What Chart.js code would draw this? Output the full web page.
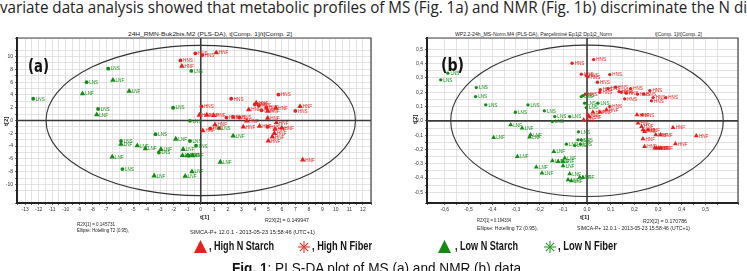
<!DOCTYPE html>
<html><head><meta charset="utf-8">
<script src="https://cdn.jsdelivr.net/npm/chart.js@4.4.0/dist/chart.umd.min.js"></script>
<style>
html,body{margin:0;padding:0;background:#fff;width:747px;height:271px;overflow:hidden;}
body{position:relative;font-family:"Liberation Sans",Arial,sans-serif;}
.t{position:absolute;white-space:nowrap;transform-origin:0 0;color:#222;line-height:1;}
.cv{position:absolute;}
svg{position:absolute;overflow:visible;}
</style></head><body>
<div class="t" id="para" data-w="747" style="left:0;top:-1px;font-size:16px;font-family:'Open Sans';color:#222;">variate data analysis showed that metabolic profiles of MS (Fig. 1a) and NMR (Fig. 1b) discriminate the N di</div>

<div class="t" data-w="164" style="left:128px;top:31px;font-size:6px;">24H_RMN-Buk2bis.M2 (PLS-DA), t[Comp. 1]/t[Comp. 2]</div>
<div class="t" data-w="157" style="left:455px;top:31px;font-size:6px;">WP2.2-24h_MS-Norm.M4 (PLS-DA), Parçeliminé Ep1j2 Dp1j2_Norm</div>
<div class="t" data-w="47" style="left:655px;top:31px;font-size:6px;">t[Comp. 1]/t[Comp. 2]</div>

<canvas class="cv" id="ca" width="380" height="190" style="left:0;top:30px;"></canvas>
<canvas class="cv" id="cb" width="352" height="190" style="left:395px;top:30px;"></canvas>

<div class="t" data-w="21" style="left:28px;top:58px;font-size:17px;font-weight:bold;font-family:'DejaVu Sans';color:#111;">(a)</div>
<div class="t" data-w="23" style="left:441px;top:57px;font-size:17px;font-weight:bold;font-family:'DejaVu Sans';color:#111;">(b)</div>

<div class="t" style="left:200px;top:214px;font-size:6px;font-weight:bold;">t[1]</div>
<div class="t" style="left:580px;top:214px;font-size:6px;font-weight:bold;">t[1]</div>
<div class="t" style="left:3px;top:126px;font-size:6px;font-weight:bold;transform:rotate(-90deg);">t[2]</div>
<div class="t" style="left:412px;top:124px;font-size:6px;font-weight:bold;transform:rotate(-90deg);">t[2]</div>

<div class="t" data-w="38" style="left:77px;top:222px;font-size:5.5px;">R2X[1] = 0.145731</div>
<div class="t" data-w="52" style="left:77px;top:228px;font-size:5.5px;">Ellipse: Hotelling T2 (0.95),</div>
<div class="t" data-w="44" style="left:265px;top:218px;font-size:5.5px;">R2X[2] = 0.149947</div>
<div class="t" data-w="125" style="left:190px;top:230px;font-size:5.5px;">SIMCA-P+ 12.0.1 - 2013-05-23 15:58:46 (UTC+1)</div>

<div class="t" data-w="34" style="left:477px;top:218px;font-size:5.5px;">R2X[1] = 0.194334</div>
<div class="t" data-w="61" style="left:477px;top:226px;font-size:5.5px;">Ellipse: Hotelling T2 (0.95),</div>
<div class="t" data-w="44" style="left:643px;top:219px;font-size:5.5px;">R2X[2] = 0.170786</div>
<div class="t" data-w="113" style="left:577px;top:226px;font-size:5.5px;">SIMCA-P+ 12.0.1 - 2013-05-23 15:58:46 (UTC+1)</div>

<svg style="left:194px;top:240px" width="14" height="14"><polygon points="6.5,0 13,13 0,13" fill="#ee1c1c"/></svg>
<div class="t" data-w="65" style="left:209px;top:240px;font-size:12px;font-weight:bold;color:#111;">, High N Starch</div>
<svg style="left:298px;top:241px" width="12" height="12"><g stroke="#f03030" stroke-width="1.1"><line x1="6" y1="0" x2="6" y2="12"/><line x1="0" y1="6" x2="12" y2="6"/><line x1="1.8" y1="1.8" x2="10.2" y2="10.2"/><line x1="10.2" y1="1.8" x2="1.8" y2="10.2"/></g></svg>
<div class="t" data-w="60" style="left:312px;top:240px;font-size:12px;font-weight:bold;color:#111;">, High N Fiber</div>
<svg style="left:438px;top:240px" width="14" height="14"><polygon points="6.5,0 13,13 0,13" fill="#128a12"/></svg>
<div class="t" data-w="63" style="left:455px;top:240px;font-size:12px;font-weight:bold;color:#111;">, Low N Starch</div>
<svg style="left:544px;top:241px" width="12" height="12"><g stroke="#2a9a2a" stroke-width="1.1"><line x1="6" y1="0" x2="6" y2="12"/><line x1="0" y1="6" x2="12" y2="6"/><line x1="1.8" y1="1.8" x2="10.2" y2="10.2"/><line x1="10.2" y1="1.8" x2="1.8" y2="10.2"/></g></svg>
<div class="t" data-w="59" style="left:558px;top:240px;font-size:12px;font-weight:bold;color:#111;">, Low N Fiber</div>

<div class="t" data-w="289" style="left:232px;top:261px;font-size:14px;color:#111;"><b>Fig. 1</b>: PLS-DA plot of MS (a) and NMR (b) data</div>

<script>
// ---------- Panel (a): MS PLS-DA scores t[1] / t[2] ----------
const A_HNS = [[-1.5,9.4],[-0.4,10.5],[0.1,10.2],[5.75,4.05],[2.25,3.4],[4.0,2.5],[4.3,2.35],[4.5,1.6],[4.85,2.0],[7.0,1.5],[0.05,2.2],[1.9,0.45],[2.4,0.55],[2.85,0.45],[4.95,-1.0],[0.7,-1.25]];
const A_HNF = [[-1.4,8.5],[1.15,10.6],[4.1,2.75],[3.55,1.7],[4.95,1.45],[5.55,1.95],[7.35,2.2],[-0.1,0.85],[0.45,0.85],[0.95,0.8],[3.4,-0.05],[4.95,0.35],[5.6,-0.35],[3.15,-1.0],[4.35,-0.9],[5.5,-1.35],[6.0,-1.15],[0.15,-1.6],[1.05,-0.65],[5.45,-2.0],[5.3,-2.55],[5.0,-3.2],[7.55,-6.15]];
const A_LNS = [[-12.4,3.4],[-6.85,8.1],[-8.45,6.0],[-7.6,1.8],[-0.7,7.75],[-2.05,2.0],[-0.8,-0.05],[1.35,-1.2],[-3.35,-2.15],[-0.8,-3.2],[-0.35,-3.95],[-5.9,-3.2],[-3.1,-5.0],[-5.8,-7.6],[-0.9,-5.5]];
const A_LNF = [[-6.5,6.3],[-8.75,4.2],[-5.3,4.6],[-7.7,0.9],[-1.85,-2.9],[2.4,-2.4],[-5.9,-3.7],[-4.7,-3.95],[-4.1,-4.4],[-2.95,-4.5],[-1.3,-4.5],[-6.55,-5.7],[-1.35,-5.45],[-1.0,-5.5],[-0.6,-5.5],[-3.45,-8.65],[-0.65,-8.0],[-1.15,-8.7],[1.45,-6.5]];
const A_X_RANGE = [-13.6, 12.6];
const A_Y_RANGE = [-12.9, 12.9];
const A_ELLIPSE = [11.45, 11.75];   // Hotelling T2 (0.95) semi-axes
// ---------- Panel (b): NMR PLS-DA scores ----------
const B_HNS = [[-0.063,0.403],[0.028,0.429],[-0.024,0.327],[-0.003,0.317],[0.004,0.308],[0.096,0.324],[0.044,0.27],[0.121,0.236],[0.089,0.226],[0.056,0.219],[0.054,0.2],[0.135,0.205],[0.145,0.2],[0.184,0.226],[0.166,0.194],[0.159,0.154],[0.213,0.187],[0.265,0.212],[0.239,0.187],[0.279,0.163],[0.272,0.14],[0.332,0.163],[-0.007,0.187],[0.096,0.1],[0.232,0.042]];
const B_HNF = [[0.082,0.077],[0.025,0.061],[0.054,0.061],[0.004,0.042],[0.011,0.028],[-0.014,0.007],[0.211,0.042],[0.215,-0.016],[0.23,-0.04],[0.236,-0.063],[0.243,-0.075],[0.257,-0.063],[0.29,-0.098],[0.31,-0.098],[0.363,-0.047],[0.461,-0.105],[0.236,-0.126],[0.373,-0.161],[0.243,-0.18],[0.286,-0.191],[0.293,-0.191],[0.303,-0.191],[0.312,-0.19]];
const B_LNS = [[-0.587,0.334],[-0.617,0.287],[-0.467,0.233],[-0.47,0.17],[-0.427,0.112],[-0.302,0.06],[-0.249,0.112],[-0.18,0.07],[-0.136,0.03],[-0.073,0.03],[-0.146,-0.005],[-0.017,0.177],[-0.024,0.17],[-0.01,0.124],[-0.003,0.093],[0.046,0.124],[-0.036,-0.077],[-0.038,-0.133],[-0.024,-0.133],[-0.087,-0.163],[-0.052,-0.173],[-0.028,-0.163]];
const B_LNF = [[-0.322,-0.028],[-0.274,-0.051],[-0.394,-0.117],[-0.238,-0.098],[-0.242,-0.114],[-0.14,-0.215],[-0.294,-0.25],[-0.146,-0.28],[-0.122,-0.285],[-0.101,-0.285],[-0.094,-0.261],[-0.101,-0.315],[-0.214,-0.324],[-0.19,-0.366],[-0.073,-0.371],[-0.08,-0.413],[-0.066,-0.42],[-0.031,-0.396],[-0.017,-0.396]];
const B_X_RANGE = [-0.675, 0.637];
const B_Y_RANGE = [-0.575, 0.58];
const B_ELLIPSE = [0.575, 0.53];

const RED = '#ee1c1c', GREEN = '#138c13';

function fitTexts(){
  document.querySelectorAll('[data-w]').forEach(el=>{
    const w = parseFloat(el.dataset.w);
    const cur = el.getBoundingClientRect().width;
    if (cur > 0) el.style.transform = 'scaleX(' + (w/cur) + ')';
  });
}

const decor = {
  id:'decor',
  beforeDatasetsDraw(chart, args, o){
    const {ctx, chartArea:a, scales:{x,y}} = chart;
    ctx.save();
    ctx.beginPath(); ctx.rect(a.left,a.top,a.right-a.left,a.bottom-a.top); ctx.clip();
    // zero lines
    ctx.strokeStyle = '#3a3a3a'; ctx.lineWidth = 1.6;
    const x0 = x.getPixelForValue(0), y0 = y.getPixelForValue(0);
    ctx.beginPath(); ctx.moveTo(x0,a.top); ctx.lineTo(x0,a.bottom); ctx.stroke();
    ctx.beginPath(); ctx.moveTo(a.left,y0); ctx.lineTo(a.right,y0); ctx.stroke();
    // ellipse
    const rx = Math.abs(x.getPixelForValue(o.ell[0]) - x0);
    const ry = Math.abs(y.getPixelForValue(o.ell[1]) - y0);
    ctx.strokeStyle = '#333'; ctx.lineWidth = 1.1;
    ctx.beginPath(); ctx.ellipse(x0,y0,rx,ry,0,0,Math.PI*2); ctx.stroke();
    ctx.restore();
  },
  afterDatasetsDraw(chart){
    const ctx = chart.ctx;
    ctx.save();
    ctx.font = '4.6px "Liberation Sans", Arial, sans-serif';
    ctx.textBaseline = 'middle';
    chart.data.datasets.forEach((ds,i)=>{
      const meta = chart.getDatasetMeta(i);
      ctx.fillStyle = ds.borderColor;
      meta.data.forEach(el=>{ ctx.fillText(ds.label, el.x + 2.6, el.y + 0.5); });
    });
    ctx.restore();
  },
  afterDraw(chart){
    const {ctx, chartArea:a} = chart;
    ctx.save();
    ctx.strokeStyle = '#444'; ctx.lineWidth = 1.2;
    ctx.beginPath(); ctx.moveTo(a.left,a.top); ctx.lineTo(a.right,a.top); ctx.lineTo(a.right,a.bottom); ctx.stroke();
    ctx.restore();
  }
};

function series(name, pts, tri, color, r){
  return {label:name, data:pts.map(p=>({x:p[0],y:p[1]})), pointStyle: tri?'triangle':'circle',
    pointRadius: tri? r : r*0.6, backgroundColor:color, borderColor:color, borderWidth:0, showLine:false};
}

function makeChart(id, ds, xr, yr, xStep, yStep, xLab, yLab, yW, ell){
  new Chart(document.getElementById(id), {
    type:'scatter',
    data:{datasets:ds},
    options:{
      responsive:false, animation:false, devicePixelRatio:1,
      layout:{padding:{top:8,right:9,left:0,bottom:0}},
      plugins:{legend:{display:false}, tooltip:{enabled:false}, decor:{ell}},
      scales:{
        x:{type:'linear', min:xr[0], max:xr[1], afterFit:s=>{s.height=17;},
           ticks:{stepSize:xStep, autoSkip:false, maxRotation:0, minRotation:0, font:{size:5, family:'Liberation Sans'}, color:'#333', padding:2, callback:xLab},
           grid:{color:'#dadada', lineWidth:0.8, tickLength:2, tickColor:'#444'},
           border:{color:'#222', width:2}},
        y:{type:'linear', min:yr[0], max:yr[1], afterFit:s=>{s.width=yW;},
           ticks:{stepSize:yStep, autoSkip:false, font:{size:5, family:'Liberation Sans'}, color:'#333', padding:2, callback:yLab},
           grid:{color:'#dadada', lineWidth:0.8, tickLength:2, tickColor:'#444'},
           border:{color:'#222', width:2}}
      }
    },
    plugins:[decor]
  });
}

const near = (v,s)=>Math.abs(v/s - Math.round(v/s)) < 1e-6;
const labA_x = v => near(v,1) ? String(Math.round(v)) : '';
const labA_y = v => near(v,2) ? String(Math.round(v)) : '';
const labB = v => near(v,0.1) ? (Math.round(v*10)/10).toFixed(1).replace('.',',') : '';

makeChart('ca', [
  series('LNS', A_LNS, false, GREEN, 3.2), series('LNF', A_LNF, true, GREEN, 3.2),
  series('HNS', A_HNS, false, RED, 3.2), series('HNF', A_HNF, true, RED, 3.2)
], A_X_RANGE, A_Y_RANGE, 0.5, 1, labA_x, labA_y, 17, A_ELLIPSE);

makeChart('cb', [
  series('LNS', B_LNS, false, GREEN, 2.8), series('LNF', B_LNF, true, GREEN, 2.8),
  series('HNS', B_HNS, false, RED, 2.8), series('HNF', B_HNF, true, RED, 2.8)
], B_X_RANGE, B_Y_RANGE, 0.05, 0.05, labB, labB, 32, B_ELLIPSE);

fitTexts();
</script>
</body></html>
